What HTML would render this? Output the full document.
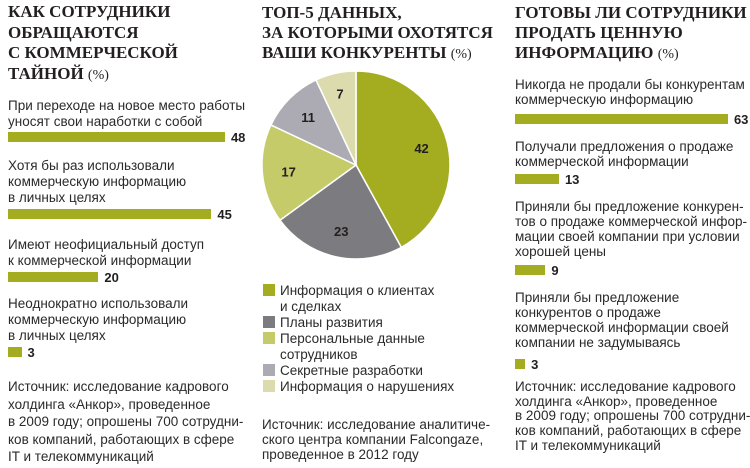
<!DOCTYPE html>
<html><head><meta charset="utf-8">
<style>
body{margin:0;width:750px;height:468px;background:#fff;position:relative;overflow:hidden;font-family:"Liberation Sans",sans-serif;color:#231f20}
.t{position:absolute;font-family:"Liberation Serif",serif;font-weight:bold;font-size:17px;line-height:20.5px;color:#231f20;white-space:nowrap}
.t span{font-weight:normal;font-size:14px}
.x{position:absolute;font-size:13.5px;line-height:16px;color:#2a2a2a;white-space:nowrap}
.r{line-height:15px}
.bar{position:absolute;height:10px;background:#a4ad1f}
.v{position:absolute;font-weight:bold;font-size:13px;line-height:13px}
.sq{position:absolute;width:12px;height:12px}
</style></head><body>
<div class="t" style="left:8px;top:2px">КАК СОТРУДНИКИ<br>ОБРАЩАЮТСЯ<br>С КОММЕРЧЕСКОЙ<br>ТАЙНОЙ <span>(%)</span></div>
<div class="x" style="left:8px;top:98px">При переходе на новое место работы<br>уносят свои наработки с собой</div>
<div class="x" style="left:8px;top:158px">Хотя бы раз использовали<br>коммерческую информацию<br>в личных целях</div>
<div class="x" style="left:8px;top:237px">Имеют неофициальный доступ<br>к коммерческой информации</div>
<div class="x" style="left:8px;top:296px">Неоднократно использовали<br>коммерческую информацию<br>в личных целях</div>
<div class="x" style="left:8px;top:378px;line-height:17.5px">Источник: исследование кадрового<br>холдинга «Анкор», проведенное<br>в 2009 году; опрошены 700 сотрудни-<br>ков компаний, работающих в сфере<br>IT и телекоммуникаций</div>

<div class="t" style="left:262px;top:3px;line-height:20px">ТОП-5 ДАННЫХ,<br>ЗА КОТОРЫМИ ОХОТЯТСЯ<br>ВАШИ КОНКУРЕНТЫ <span>(%)</span></div>
<svg id="pie" width="750" height="468" style="position:absolute;left:0;top:0"></svg>
<div class="sq" style="left:263px;top:284px;background:#a4ad1f"></div>
<div class="x" style="left:280px;top:283px">Информация о клиентах<br>и сделках</div>
<div class="sq" style="left:263px;top:316px;background:#7c7c80"></div>
<div class="x" style="left:280px;top:315px">Планы развития</div>
<div class="sq" style="left:263px;top:332px;background:#c6cb6a"></div>
<div class="x" style="left:280px;top:331px">Персональные данные<br>сотрудников</div>
<div class="sq" style="left:263px;top:364px;background:#acabb3"></div>
<div class="x" style="left:280px;top:363px">Секретные разработки</div>
<div class="sq" style="left:263px;top:380px;background:#dcdbae"></div>
<div class="x" style="left:280px;top:379px">Информация о нарушениях</div>
<div class="x r" style="left:262px;top:417px">Источник: исследование аналитиче-<br>ского центра компании Falcongaze,<br>проведенное в 2012 году</div>

<div class="t" style="left:515px;top:3px;line-height:20px">ГОТОВЫ ЛИ СОТРУДНИКИ<br>ПРОДАТЬ ЦЕННУЮ<br>ИНФОРМАЦИЮ <span>(%)</span></div>
<div class="x r" style="left:515px;top:77px">Никогда не продали бы конкурентам<br>коммерческую информацию</div>
<div class="x r" style="left:515px;top:139px">Получали предложения о продаже<br>коммерческой информации</div>
<div class="x r" style="left:515px;top:199px">Приняли бы предложение конкурен-<br>тов о продаже коммерческой инфор-<br>мации своей компании при условии<br>хорошей цены</div>
<div class="x r" style="left:515px;top:290px">Приняли бы предложение<br>конкурентов о продаже<br>коммерческой информации своей<br>компании не задумываясь</div>
<div class="x r" style="left:515px;top:380px;line-height:14.7px">Источник: исследование кадрового<br>холдинга «Анкор», проведенное<br>в 2009 году; опрошены 700 сотрудни-<br>ков компаний, работающих в сфере<br>IT и телекоммуникаций</div>

<script>
const leftValues=[48,45,20,3];
const rightValues=[63,13,9,3];
const pieCategories=["Информация о клиентах и сделках","Планы развития","Персональные данные сотрудников","Секретные разработки","Информация о нарушениях"];
const pieValues=[42,23,17,11,7];
const pieColors=["#a4ad1f","#7c7c80","#c6cb6a","#acabb3","#dcdbae"];

const leftTops=[132,209,272,347], rightTops=[114,174,265,359];
function leftX(v){return v*4.52;}
function rightX(v){return v*3.38;}
function drawBars(vals,tops,x0,scale,prefix){
  vals.forEach((v,i)=>{
    const b=document.createElement('div');b.className='bar';
    
    
    const w=scale(v);
    b.style.left=x0+'px';b.style.top=tops[i]+'px';b.style.width=w+'px';
    document.body.appendChild(b);
    const t=document.createElement('div');t.className='v';t.textContent=v;
    
    
    t.style.left=(x0+w+6)+'px';t.style.top=(tops[i]-1)+'px';
    document.body.appendChild(t);
  });
}
drawBars(leftValues,leftTops,8,leftX,'left');
drawBars(rightValues,rightTops,515,rightX,'right');

const svg=document.getElementById('pie');const NS='http://www.w3.org/2000/svg';
const cx=356,cy=165,r=94;
const total=pieValues.reduce((a,b)=>a+b,0);
function ang(v){return v/total*2*Math.PI;}
function pt(a,rr){return [cx+rr*Math.sin(a),cy-rr*Math.cos(a)];}
let a0=0;
pieValues.forEach((v,i)=>{
  const a1=a0+ang(v);
  const p0=pt(a0,r),p1=pt(a1,r);
  const path=document.createElementNS(NS,'path');
  path.setAttribute('d',`M${cx},${cy}L${p0[0]},${p0[1]}A${r},${r} 0 ${a1-a0>Math.PI?1:0} 1 ${p1[0]},${p1[1]}Z`);
  path.setAttribute('fill',pieColors[i]);path.setAttribute('stroke','#fff');path.setAttribute('stroke-width','1.5');
  
  
  svg.appendChild(path);
  const m=(a0+a1)/2, lr=v<10?r*0.78:r*0.72;
  const lp=pt(m,lr);
  const t=document.createElementNS(NS,'text');
  t.setAttribute('x',lp[0]);t.setAttribute('y',lp[1]+5);t.setAttribute('text-anchor','middle');
  t.setAttribute('font-family','Liberation Sans, sans-serif');t.setAttribute('font-weight','bold');t.setAttribute('font-size','13');t.setAttribute('fill','#231f20');
  t.textContent=v;
  
  
  svg.appendChild(t);
  a0=a1;
});
</script>
</body></html>
